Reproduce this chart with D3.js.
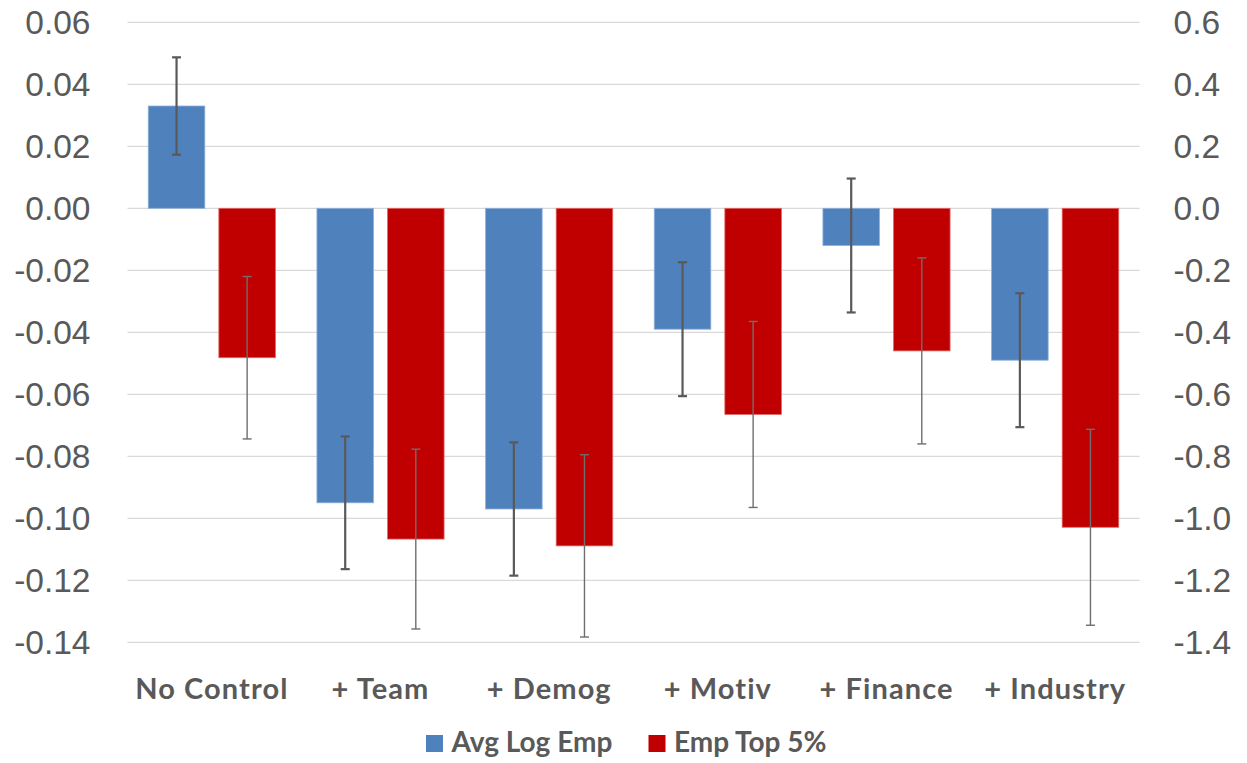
<!DOCTYPE html>
<html>
<head>
<meta charset="utf-8">
<script src="https://cdn.jsdelivr.net/npm/d3@7"></script>
<style>
  html, body { margin: 0; padding: 0; background: #fff; }
  svg { display: block; }
  .tick text { fill: #595959; }
</style>
</head>
<body>
<svg id="chart" width="1247" height="763"></svg>
<script>
// Regression coefficients by specification, with error bars
const categories = ["No Control", "+ Team", "+ Demog", "+ Motiv", "+ Finance", "+ Industry"];
const seriesNames = ["Avg Log Emp", "Emp Top 5%"];
const avgLogEmp    = [0.033, -0.095, -0.097, -0.039, -0.012, -0.049];
const avgLogEmpErr = [0.0157, 0.0214, 0.0215, 0.0216, 0.0216, 0.0216];
const empTop5      = [-0.482, -1.067, -1.089, -0.665, -0.460, -1.029];
const empTop5Err   = [0.262, 0.290, 0.294, 0.300, 0.300, 0.316];
const leftTicks  = [0.06, 0.04, 0.02, 0.00, -0.02, -0.04, -0.06, -0.08, -0.10, -0.12, -0.14];
const rightTicks = [0.6, 0.4, 0.2, 0.0, -0.2, -0.4, -0.6, -0.8, -1.0, -1.2, -1.4];

const colors = { "Avg Log Emp": "#4F81BD", "Emp Top 5%": "#C00000" };
const edges  = { "Avg Log Emp": "#8fb1dc", "Emp Top 5%": "#e06a6a" };

const svg = d3.select("#chart");
const plot = { left: 127.5, right: 1139.5, top: 22.3, bottom: 642.3 };

const fmtLocale = d3.formatLocale({ decimal: ".", thousands: ",", grouping: [3], currency: ["", ""], minus: "-" });

const x = d3.scaleBand().domain(categories).range([plot.left, plot.right]).padding(0);
const xs = d3.scaleBand().domain(seriesNames).range([0, x.bandwidth()])
  .paddingInner(0.1986).paddingOuter(0.294);
const yL = d3.scaleLinear().domain([-0.14, 0.06]).range([plot.bottom, plot.top]);
const yR = d3.scaleLinear().domain([-1.4, 0.6]).range([plot.bottom, plot.top]);

// gridlines
svg.append("g").selectAll("line").data(leftTicks).join("line")
  .attr("x1", plot.left).attr("x2", plot.right)
  .attr("y1", d => yL(d)).attr("y2", d => yL(d))
  .attr("stroke", "#d9d9d9").attr("stroke-width", 1.2);

// axes
const tickFont = "'Liberation Sans', Arial, sans-serif";
const gL = svg.append("g").attr("transform", `translate(${plot.left},0)`)
  .call(d3.axisLeft(yL).tickValues(leftTicks).tickSize(0).tickPadding(37).tickFormat(fmtLocale.format(".2f")));
gL.select(".domain").remove();
gL.selectAll("text").attr("font-family", tickFont).attr("font-size", 33.5).attr("fill", "#595959");

const gR = svg.append("g").attr("transform", `translate(${plot.right},0)`)
  .call(d3.axisRight(yR).tickValues(rightTicks).tickSize(0).tickPadding(34).tickFormat(fmtLocale.format(".1f")));
gR.select(".domain").remove();
gR.selectAll("text").attr("font-family", tickFont).attr("font-size", 33.5).attr("fill", "#595959");

const gB = svg.append("g").attr("transform", `translate(0,${plot.bottom})`)
  .call(d3.axisBottom(x).tickSize(0).tickPadding(36));
gB.select(".domain").remove();
gB.selectAll("text").attr("font-family", "Lato, sans-serif").attr("font-weight", "bold")
  .attr("font-size", 29).attr("letter-spacing", 1.1).attr("fill", "#595959");

// series records
const rows = categories.map((c, i) => ([
  { cat: c, series: "Avg Log Emp", value: avgLogEmp[i], err: avgLogEmpErr[i], y: yL },
  { cat: c, series: "Emp Top 5%", value: empTop5[i], err: empTop5Err[i], y: yR }
])).flat();

// bars
svg.append("g").selectAll("rect").data(rows).join("rect")
  .attr("x", d => x(d.cat) + xs(d.series))
  .attr("width", xs.bandwidth())
  .attr("y", d => Math.min(d.y(d.value), d.y(0)))
  .attr("height", d => Math.abs(d.y(d.value) - d.y(0)))
  .attr("fill", d => colors[d.series])
  .attr("stroke", d => edges[d.series]).attr("stroke-width", 0.8);

// error bars
const eb = svg.append("g").selectAll("g").data(rows).join("g")
  .attr("stroke", d => d.series === "Avg Log Emp" ? "#595959" : "#6e6e6e")
  .attr("stroke-width", d => d.series === "Avg Log Emp" ? 2.2 : 1.4);
const cx = d => x(d.cat) + xs(d.series) + xs.bandwidth() / 2;
eb.append("line")
  .attr("x1", cx).attr("x2", cx)
  .attr("y1", d => d.y(d.value + d.err)).attr("y2", d => d.y(d.value - d.err));
eb.append("line")
  .attr("x1", d => cx(d) - 4.5).attr("x2", d => cx(d) + 4.5)
  .attr("y1", d => d.y(d.value + d.err)).attr("y2", d => d.y(d.value + d.err));
eb.append("line")
  .attr("x1", d => cx(d) - 4.5).attr("x2", d => cx(d) + 4.5)
  .attr("y1", d => d.y(d.value - d.err)).attr("y2", d => d.y(d.value - d.err));

// legend
const legend = svg.append("g").attr("font-family", "Lato, sans-serif").attr("font-weight", "bold")
  .attr("font-size", 28).attr("fill", "#595959");
const legendX = [426, 648.5];
seriesNames.forEach((s, i) => {
  const g = legend.append("g").attr("transform", `translate(${legendX[i]},735)`);
  g.append("rect").attr("width", 17).attr("height", 17).attr("fill", colors[s]);
  g.append("text").attr("x", 25.5).attr("y", 16.7).text(s);
});
</script>
</body>
</html>
